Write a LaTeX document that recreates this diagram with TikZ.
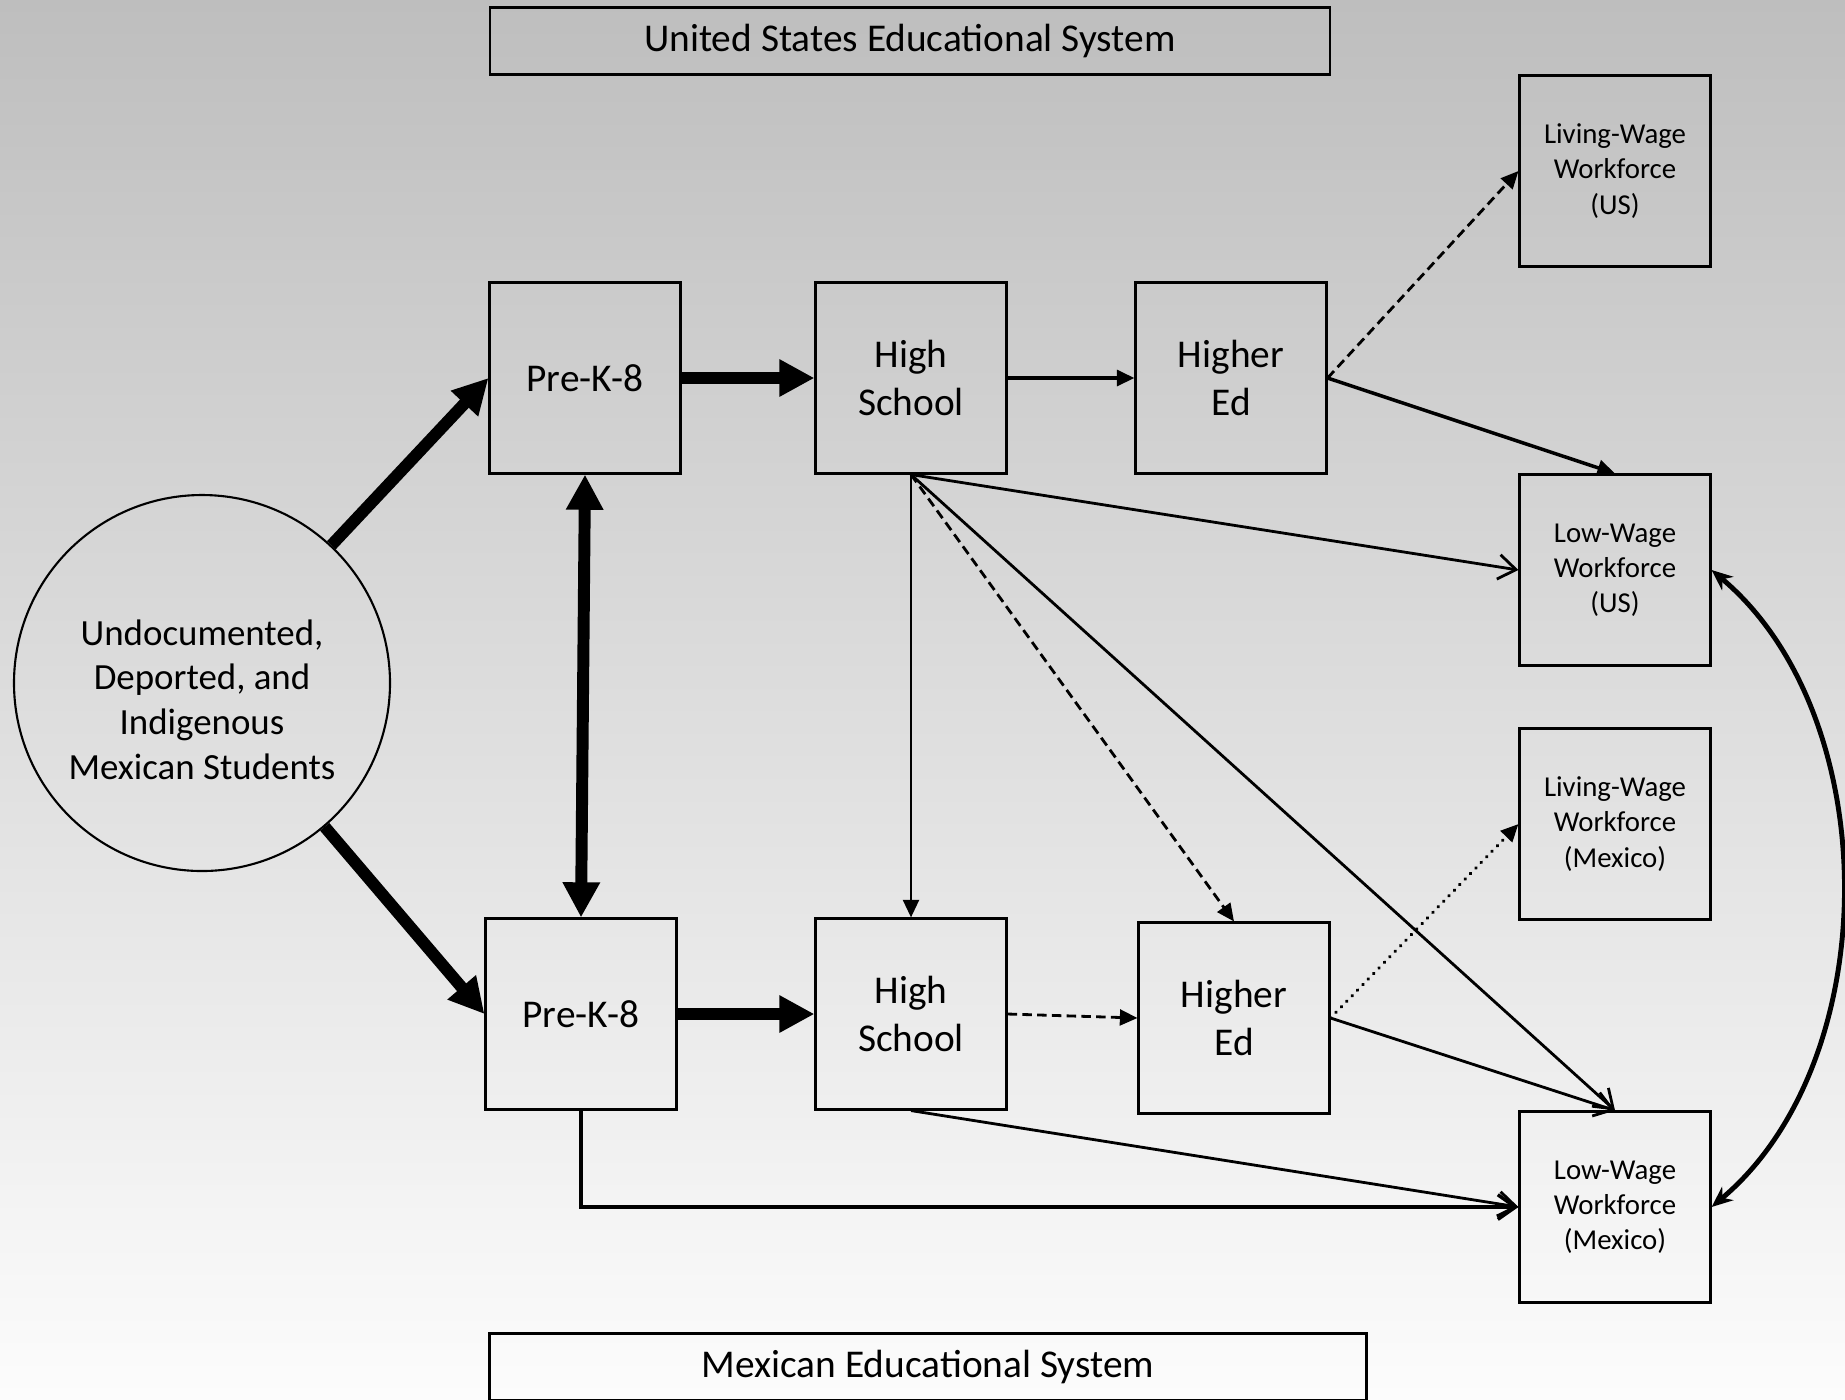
\documentclass[tikz,border=0pt]{standalone}
\usepackage{fontspec}
\setmainfont{Carlito}
\usetikzlibrary{arrows.meta}
\definecolor{bgtop}{RGB}{190,190,190}
\definecolor{bgmid}{RGB}{232,232,232}
\definecolor{bgbot}{RGB}{252,252,252}
\newcommand{\Wf}[2]{#1\\Workforce\\(#2)}

\begin{document}
\begin{tikzpicture}[
      stage/.style={draw,line width=0.6pt,minimum width=1.91cm,minimum height=1.91cm,align=center,font=\fontsize{11.2}{13.7}\selectfont},
      work/.style={stage,font=\fontsize{8.2}{10}\selectfont},
      system/.style={draw,line width=0.6pt,minimum height=0.67cm,font=\fontsize{11.2}{13.7}\selectfont},
      main/.style={line width=3.4pt,-{Triangle[length=10pt,width=10pt]}},
      flow/.style={line width=0.8pt,-{Triangle[length=5pt,width=4.5pt]}},
      maybe/.style={flow,dash pattern=on 2.7pt off 1.5pt},
      weak/.style={flow,line width=1pt,line cap=round,dash pattern=on 0.1pt off 2.1pt},
      leave/.style={line width=0.8pt,-{Straight Barb[length=5pt,width=7pt]}},
      swap/.style={line width=1.4pt,{Stealth[length=6pt,width=5pt]}-{Stealth[length=6pt,width=5pt]}}
    ]
    % Background.
    \useasboundingbox (0,0) rectangle (18.45,-13.99);
    \clip (0,0) rectangle (18.45,-13.99);
    \shade[top color=bgtop,middle color=bgmid,bottom color=bgbot] (0,0) rectangle (18.45,-13.99);
    % The two systems.
    \node[system,minimum width=8.40cm] (usSys) at (9.10,-0.41) {United States Educational System};
    \node[system,minimum width=8.77cm] (mxSys) at (9.28,-13.67) {Mexican Educational System};
    % The students.
    \node[draw,circle,line width=0.6pt,minimum size=3.76cm,
      label={[name=studentsTxt,yshift=-0.165cm,align=center,font=\fontsize{10.5}{12.7}\selectfont]center:Undocumented,\\Deported, and\\Indigenous\\Mexican Students}]
      (students) at (2.02,-6.83) {};
    % US schools.
    \node[stage] (preUS) at (5.85,-3.78) {Pre-K-8};
    \node[stage] (hsUS) at (9.11,-3.78) {High\\School};
    \node[stage] (heUS) at (12.31,-3.78) {Higher\\Ed};
    % Mexican schools.
    \node[stage] (preMX) at (5.81,-10.14) {Pre-K-8};
    \node[stage] (hsMX) at (9.11,-10.14) {High\\School};
    \node[stage] (heMX) at (12.34,-10.18) {Higher\\Ed};
    % Workforce.
    \node[work] (livUS) at (16.15,-1.71) {\Wf{Living-Wage}{US}};
    \node[work] (lowUS) at (16.15,-5.70) {\Wf{Low-Wage}{US}};
    \node[work] (livMX) at (16.15,-8.24) {\Wf{Living-Wage}{Mexico}};
    \node[work] (lowMX) at (16.15,-12.07) {\Wf{Low-Wage}{Mexico}};
    % Main paths.
    \draw[main] (students) -- (preUS.west);
    \draw[main] (students) -- (preMX.west);
    \draw[main] (preUS.east) -- (hsUS.west);
    \draw[main] (preMX.east) -- (hsMX.west);
    \draw[main,{Triangle[length=10pt,width=10pt]}-{Triangle[length=10pt,width=10pt]}] (preUS.south) -- (preMX.north);
    % From US schools.
    \draw[flow,line width=1pt] (hsUS.east) -- (heUS.west);
    \draw[maybe] (heUS.east) -- (livUS.west);
    \draw[flow,line width=1pt] (heUS.east) -- (lowUS.north);
    \draw[leave] (hsUS.south) -- (lowUS.west);
    \draw[flow] (hsUS.south) -- (hsMX.north);
    \draw[maybe] (hsUS.south) -- (heMX.north);
    \draw[leave] (hsUS.south) -- (lowMX.north);
    % From Mexican schools.
    \draw[maybe] (hsMX.east) -- (heMX.west);
    \draw[weak] (heMX.east) -- (livMX.west);
    \draw[leave] (heMX.east) -- (lowMX.north);
    \draw[leave] (hsMX.south) -- (lowMX.west);
    \draw[leave,line width=1pt] (preMX.south) |- (lowMX.west);
    % Between the low-wage workforces.
    \draw[swap] (lowUS.east) .. controls +(1.74,-1.46) and +(1.74,1.46) .. (lowMX.east);
    \end{tikzpicture}
\end{document}
